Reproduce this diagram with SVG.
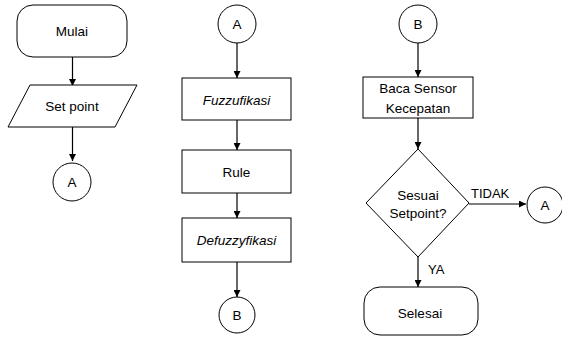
<svg xmlns="http://www.w3.org/2000/svg" width="562" height="337" viewBox="0 0 562 337">
<defs>
<marker id="arr" viewBox="0 0 10 10" refX="10" refY="5" markerWidth="7" markerHeight="7" markerUnits="userSpaceOnUse" orient="auto">
<path d="M0,0 L10,5 L0,10 z" fill="#000"/>
</marker>
<style>
.s{fill:#fff;stroke:#000;stroke-width:1}
.t{font-family:"Liberation Sans",Arial,sans-serif;font-size:13.5px;fill:#000;text-anchor:middle;dominant-baseline:central}
.i{font-style:italic}
.c{fill:none;stroke:#000;stroke-width:1.2;marker-end:url(#arr)}
.l{font-family:"Liberation Sans",Arial,sans-serif;font-size:13px;fill:#000}
</style>
</defs>
<rect width="562" height="337" fill="#fff"/>
<g id="connectors">
<path class="c" d="M72.5,57 V86"/>
<path class="c" d="M72.5,127 V161"/>
<path class="c" d="M237,43 V78"/>
<path class="c" d="M237,120 V150"/>
<path class="c" d="M237,193 V218"/>
<path class="c" d="M237,262 V297"/>
<path class="c" d="M418,43 V77"/>
<path class="c" d="M418,118 V149"/>
<path class="c" d="M469,204 H526"/>
<path class="c" d="M418,257 V287"/>
<text class="l" x="471" y="198">TIDAK</text>
<text class="l" x="428" y="274">YA</text>
</g>
<g id="mulai"><rect class="s" x="17" y="5" width="110" height="52" rx="16"/><text class="t" x="72" y="31">Mulai</text></g>
<g id="setpoint"><polygon class="s" points="30,85 137,85 115,127 8,127"/><text class="t" x="72" y="106">Set point</text></g>
<g id="conA1"><circle class="s" cx="72" cy="182" r="19"/><text class="t" x="72" y="182">A</text></g>
<g id="conA2"><circle class="s" cx="237" cy="24" r="19"/><text class="t" x="237" y="24">A</text></g>
<g id="fuzz"><rect class="s" x="182" y="78" width="109" height="42"/><text class="t i" x="236.5" y="100">Fuzzufikasi</text></g>
<g id="rule"><rect class="s" x="182" y="150" width="109" height="43"/><text class="t" x="236.5" y="172">Rule</text></g>
<g id="defuzz"><rect class="s" x="182" y="218" width="109" height="44"/><text class="t i" x="236.5" y="240">Defuzzyfikasi</text></g>
<g id="conB1"><circle class="s" cx="237" cy="315" r="18"/><text class="t" x="237" y="315">B</text></g>
<g id="conB2"><circle class="s" cx="418" cy="24" r="19"/><text class="t" x="418" y="24">B</text></g>
<g id="baca"><rect class="s" x="363" y="77" width="110" height="41"/><text class="t" x="418" y="88">Baca Sensor</text><text class="t" x="418" y="108">Kecepatan</text></g>
<g id="sesuai"><polygon class="s" points="418,149 469,203 418,257 366,203"/><text class="t" x="418" y="195">Sesuai</text><text class="t" x="418" y="213">Setpoint?</text></g>
<g id="conA3"><circle class="s" cx="545" cy="205" r="18"/><text class="t" x="545" y="205">A</text></g>
<g id="selesai"><rect class="s" x="364" y="287" width="114" height="48" rx="16"/><text class="t" x="420" y="313">Selesai</text></g>
</svg>
